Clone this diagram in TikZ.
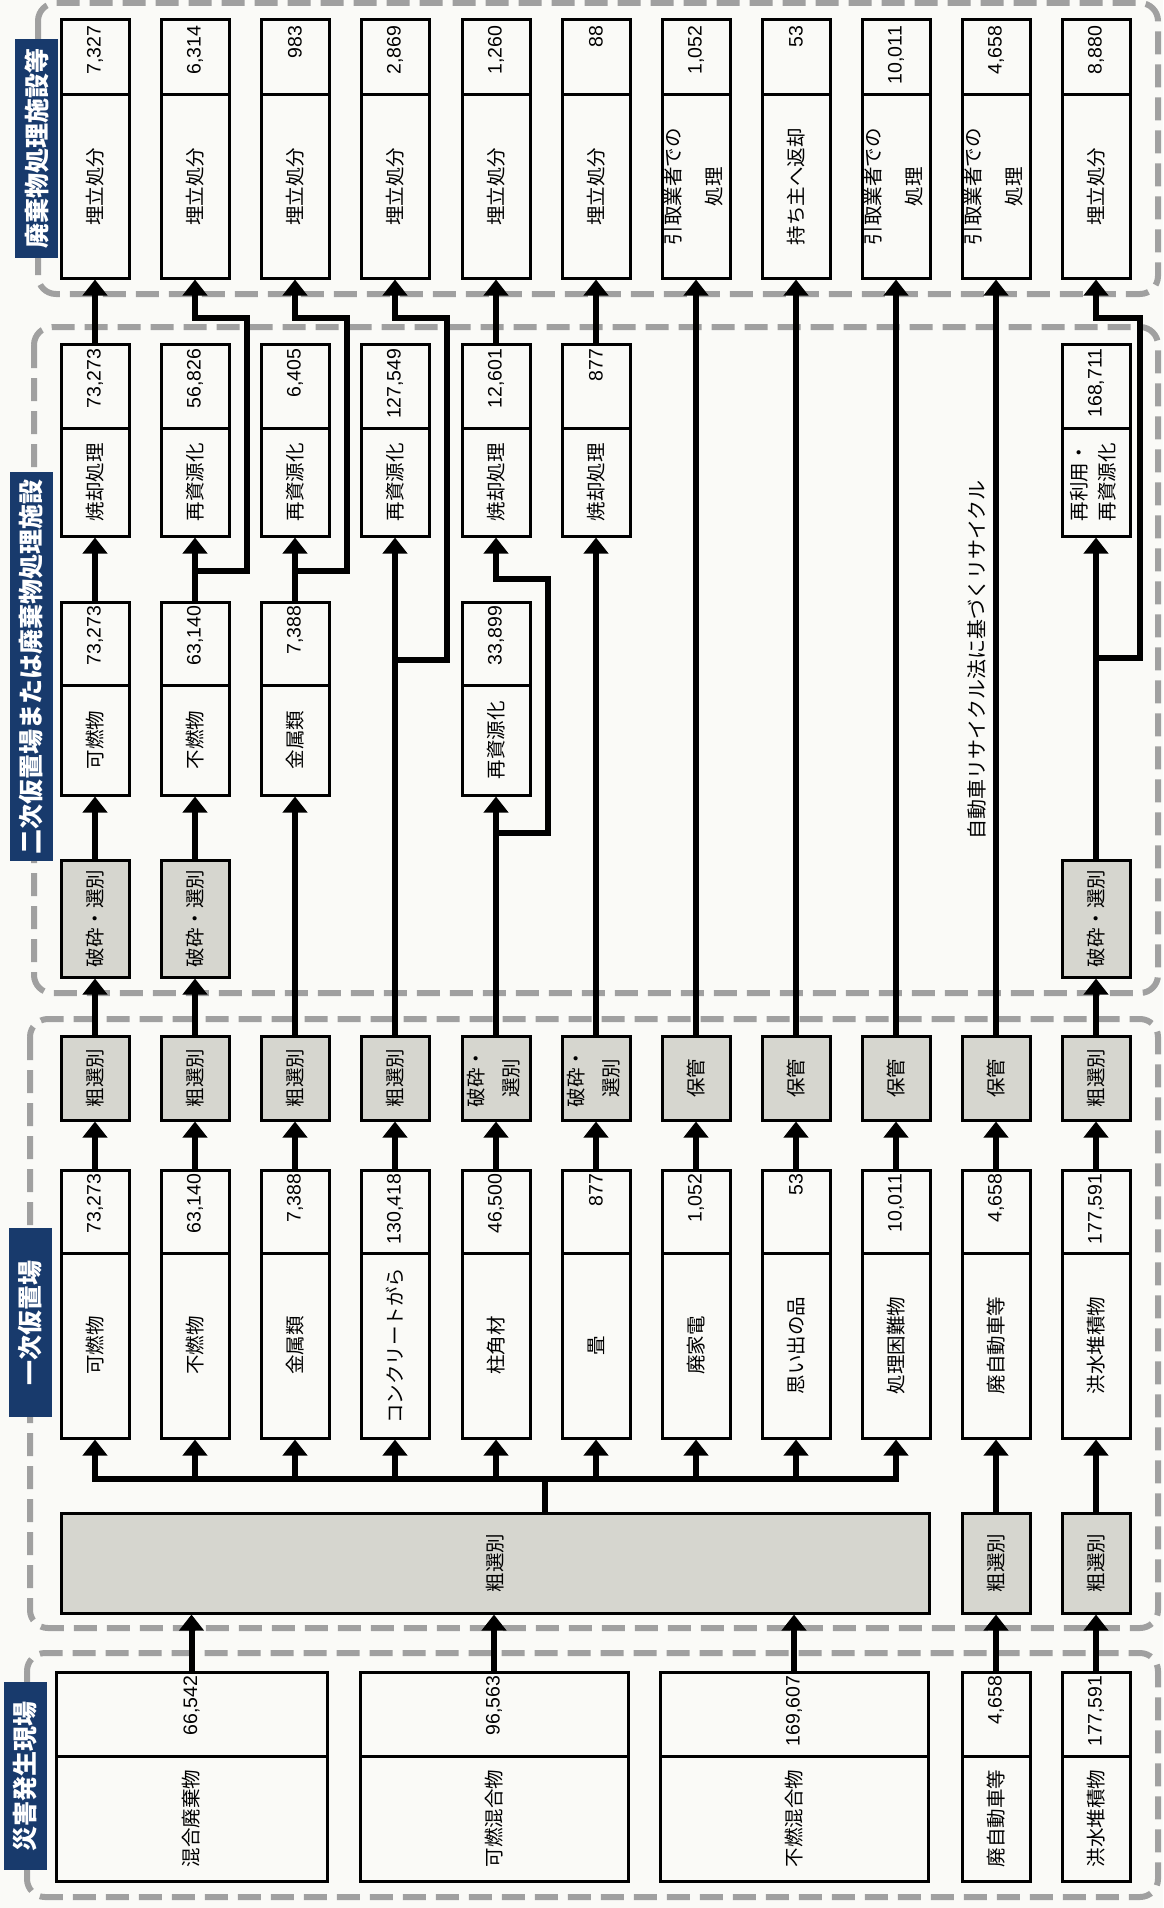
\documentclass[tikz,border=0pt]{standalone}
\usepackage{fontspec}
\usepackage{graphicx}
\setmainfont{Noto Sans CJK JP}
\newfontfamily\numf{Liberation Sans}
\usetikzlibrary{arrows.meta,calc}
\definecolor{bgc}{RGB}{250,250,247}
\definecolor{grayf}{RGB}{214,214,207}
\definecolor{navy}{RGB}{24,58,108}
\definecolor{frmc}{RGB}{160,160,160}
\newcommand\R[1]{\rotatebox{90}{#1}}
\newcommand\RN[2]{\rotatebox{90}{\makebox[#1][r]{\numf #2}}}
\newcommand\RT[3]{\rotatebox{90}{\begin{tabular}{@{}c@{}}#1\\[#3]#2\end{tabular}}}
\newcommand\boxF[4]{\node[bx,minimum height=183pt] (fl#1) at (#2,186.5) {#3};
  \node[bx,minimum height=75pt] (fn#1) at (#2,57.5) {\RN{63pt}{#4}};}
\newcommand\boxT[4]{\node[bx,minimum height=108pt] (tl#1) at (#2,482) {#3};
  \node[bx,minimum height=84pt] (tn#1) at (#2,386) {\RN{75pt}{#4}};}
\newcommand\boxK[4]{\node[bx,minimum height=110pt] (kl#1) at (#2,740) {#3};
  \node[bx,minimum height=83pt] (kn#1) at (#2,643.5) {\RN{75pt}{#4}};}
\newcommand\boxM[4]{\node[bx,minimum height=185pt] (ml#1) at (#2,1345.5) {#3};
  \node[bx,minimum height=83pt] (mn#1) at (#2,1211.5) {\RN{75pt}{#4}};}
\newcommand\boxD[5]{\node[bx,minimum width=#3pt,minimum height=125pt] (dl#1) at (#2,1818.5) {#4};
  \node[bx,minimum width=#3pt,minimum height=84pt] (dn#1) at (#2,1714) {\RN{76pt}{#5}};}
\begin{document}
\begin{tikzpicture}[x=1pt,y=-1pt,
  bx/.style={draw, line width=3pt, fill=bgc, minimum width=68pt, inner sep=0pt, font=\fontsize{19.5}{24}\selectfont},
  gbx/.style={bx, fill=grayf},
  lab/.style={fill=navy, text=white, minimum width=43pt, inner sep=0pt, font=\fontsize{25}{30}\selectfont\bfseries},
  frm/.style={draw=frmc, line width=6pt, dash pattern=on 23pt off 10pt, rounded corners=18pt},
  conn/.style={line width=6pt},
  arr/.style={line width=6pt, -{Triangle[width=24pt,length=16pt]}},
]
\fill[bgc] (0,0) rectangle (1163,1908);
\useasboundingbox (0,0) rectangle (1163,1908);

% frames
\draw[frm] (38,3) rectangle (1158,294);
\draw[frm] (34,327) rectangle (1158,993);
\draw[frm] (30,1019) rectangle (1158,1628);
\draw[frm] (27,1653) rectangle (1158,1897);

% top level: waste treatment facilities
\boxF{0}{95}{\R{埋立処分}}{7,327}
\boxF{1}{195}{\R{埋立処分}}{6,314}
\boxF{2}{295}{\R{埋立処分}}{983}
\boxF{3}{395}{\R{埋立処分}}{2,869}
\boxF{4}{496}{\R{埋立処分}}{1,260}
\boxF{5}{596}{\R{埋立処分}}{88}
\boxF{6}{696}{\RT{引取業者での}{処理}{17pt}}{1,052}
\boxF{7}{796}{\R{持ち主へ返却}}{53}
\boxF{8}{896}{\RT{引取業者での}{処理}{17pt}}{10,011}
\boxF{9}{996}{\RT{引取業者での}{処理}{17pt}}{4,658}
\boxF{10}{1096}{\R{埋立処分}}{8,880}

% secondary: upper row
\boxT{0}{95}{\R{焼却処理}}{73,273}
\boxT{1}{195}{\R{再資源化}}{56,826}
\boxT{2}{295}{\R{再資源化}}{6,405}
\boxT{3}{395}{\R{再資源化}}{127,549}
\boxT{4}{496}{\R{焼却処理}}{12,601}
\boxT{5}{596}{\R{焼却処理}}{877}
\boxT{10}{1096}{\RT{再利用・}{再資源化}{4pt}}{168,711}

% secondary: middle row
\boxK{0}{95}{\R{可燃物}}{73,273}
\boxK{1}{195}{\R{不燃物}}{63,140}
\boxK{2}{295}{\R{金属類}}{7,388}
\boxK{4}{496}{\R{再資源化}}{33,899}

% secondary: crushing
\node[gbx,minimum height=117pt] (s0) at (95,918.5) {\R{破砕・選別}};
\node[gbx,minimum height=117pt] (s1) at (195,918.5) {\R{破砕・選別}};
\node[gbx,minimum height=117pt] (s10) at (1096,918.5) {\R{破砕・選別}};

% primary: gray processes
\node[gbx,minimum height=84pt] (g0) at (95,1078) {\R{粗選別}};
\node[gbx,minimum height=84pt] (g1) at (195,1078) {\R{粗選別}};
\node[gbx,minimum height=84pt] (g2) at (295,1078) {\R{粗選別}};
\node[gbx,minimum height=84pt] (g3) at (395,1078) {\R{粗選別}};
\node[gbx,minimum height=84pt] (g4) at (496,1078) {\RT{破砕・}{選別}{11pt}};
\node[gbx,minimum height=84pt] (g5) at (596,1078) {\RT{破砕・}{選別}{11pt}};
\node[gbx,minimum height=84pt] (g6) at (696,1078) {\R{保管}};
\node[gbx,minimum height=84pt] (g7) at (796,1078) {\R{保管}};
\node[gbx,minimum height=84pt] (g8) at (896,1078) {\R{保管}};
\node[gbx,minimum height=84pt] (g9) at (996,1078) {\R{保管}};
\node[gbx,minimum height=84pt] (g10) at (1096,1078) {\R{粗選別}};

% primary: materials
\boxM{0}{95}{\R{可燃物}}{73,273}
\boxM{1}{195}{\R{不燃物}}{63,140}
\boxM{2}{295}{\R{金属類}}{7,388}
\boxM{3}{395}{\R{コンクリートがら}}{130,418}
\boxM{4}{496}{\R{柱角材}}{46,500}
\boxM{5}{596}{\R{畳}}{877}
\boxM{6}{696}{\R{廃家電}}{1,052}
\boxM{7}{796}{\R{思い出の品}}{53}
\boxM{8}{896}{\R{処理困難物}}{10,011}
\boxM{9}{996}{\R{廃自動車等}}{4,658}
\boxM{10}{1096}{\R{洪水堆積物}}{177,591}

% primary: rough sorting
\node[gbx,minimum width=868pt,minimum height=100pt] (big) at (495,1563) {\R{粗選別}};
\node[gbx,minimum height=100pt] (r9) at (996,1563) {\R{粗選別}};
\node[gbx,minimum height=100pt] (r10) at (1096,1563) {\R{粗選別}};

% disaster site
\boxD{0}{191.5}{271}{\R{混合廃棄物}}{66,542}
\boxD{1}{494}{268}{\R{可燃混合物}}{96,563}
\boxD{2}{794}{268}{\R{不燃混合物}}{169,607}
\boxD{3}{996}{68}{\R{廃自動車等}}{4,658}
\boxD{4}{1096}{68}{\R{洪水堆積物}}{177,591}

% labels
\node[lab,minimum height=219pt] (lab1) at (36.5,148.5) {\R{廃棄物処理施設等}};
\node[lab,minimum height=389pt] (lab2) at (31.5,666.5) {\R{二次仮置場または廃棄物処理施設}};
\node[lab,minimum height=189pt] (lab3) at (30,1322.5) {\R{一次仮置場}};
\node[lab,minimum height=188pt] (lab4) at (25,1776) {\R{災害発生現場}};
\node[font=\fontsize{20}{24}\selectfont, inner sep=0pt] (note) at (977,660) {\R{自動車リサイクル法に基づくリサイクル}};

% connectors: disaster site -> primary
\draw[arr] (dn0.north) -- (dn0.north |- big.south);
\draw[arr] (dn1.north) -- (dn1.north |- big.south);
\draw[arr] (dn2.north) -- (dn2.north |- big.south);
\draw[arr] (dn3.north) -- (r9.south);
\draw[arr] (dn4.north) -- (r10.south);

% bus
\coordinate (bus) at (545,1479);
\draw[conn] (big.north -| bus) -- (bus);
\draw[conn,line cap=rect] (bus -| ml0.south) -- (bus -| ml8.south);
\foreach \i in {0,...,8} \draw[arr] (bus -| ml\i.south) -- (ml\i.south);
\draw[arr] (r9.north) -- (ml9.south);
\draw[arr] (r10.north) -- (ml10.south);

% materials -> processes
\foreach \i in {0,...,10} \draw[arr] (mn\i.north) -- (g\i.south);

% primary -> secondary
\draw[arr] (g0.north) -- (s0.south);
\draw[arr] (g1.north) -- (s1.south);
\draw[arr] (g10.north) -- (s10.south);
\draw[arr] (s0.north) -- (kl0.south);
\draw[arr] (s1.north) -- (kl1.south);
\draw[arr] (g2.north) -- (kl2.south);
\draw[arr] (g4.north) -- (kl4.south);
\draw[arr] (kn0.north) -- (tl0.south);
\draw[arr] (kn1.north) -- (tl1.south);
\draw[arr] (kn2.north) -- (tl2.south);
\draw[arr] (g3.north) -- (tl3.south);
\draw[arr] (g5.north) -- (tl5.south);
\draw[arr] (s10.north) -- (tl10.south);

% secondary -> final
\draw[arr] (tn0.north) -- (fl0.south);
\draw[arr] (tn4.north) -- (fl4.south);
\draw[arr] (tn5.north) -- (fl5.south);
\draw[arr] (g6.north) -- (fl6.south);
\draw[arr] (g7.north) -- (fl7.south);
\draw[arr] (g8.north) -- (fl8.south);
\draw[arr] (g9.north) -- (fl9.south);

% branches
\coordinate (b1) at ($(kn1.north)+(0,-30)$);
\coordinate (h1) at ($(fl1.south)+(52,38)$);
\draw[arr] (b1) -| (h1) -| (fl1.south);
\coordinate (b2) at ($(kn2.north)+(0,-30)$);
\coordinate (h2) at ($(fl2.south)+(52,38)$);
\draw[arr] (b2) -| (h2) -| (fl2.south);
\coordinate (b3) at ($(tl3.south)+(0,122)$);
\coordinate (h3) at ($(fl3.south)+(52,38)$);
\draw[arr] (b3) -| (h3) -| (fl3.south);
\coordinate (b4) at ($(kl4.south)+(0,36)$);
\coordinate (h4) at ($(tl4.south)+(52,41)$);
\draw[arr] (b4) -| (h4) -| (tl4.south);
\coordinate (b10) at ($(tl10.south)+(0,120)$);
\coordinate (h10) at ($(fl10.south)+(44,38)$);
\draw[arr] (b10) -| (h10) -| (fl10.south);
\end{tikzpicture}
\end{document}
